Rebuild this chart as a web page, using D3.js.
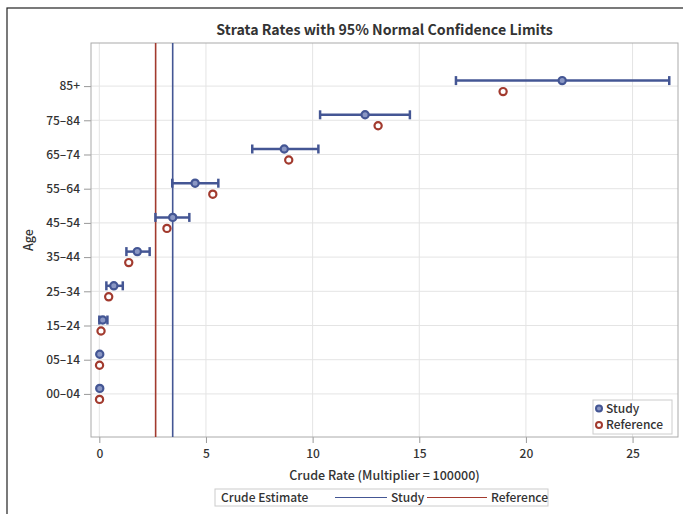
<!DOCTYPE html>
<html>
<head>
<meta charset="utf-8">
<script src="https://cdn.jsdelivr.net/npm/d3@7"></script>
<style>
  body { margin: 0; background: #fff; }
  text { font-family: "Noto Sans CJK JP", "Noto Sans", sans-serif; fill: #333; }
</style>
</head>
<body>
<div id="chart"></div>
<script>
// age strata, top to bottom
const ageGroups = ['85+', '75-84', '65-74', '55-64', '45-54', '35-44', '25-34', '15-24', '05-14', '00-04']
// study rates and 95% normal limits
const studyRate  = [21.70, 12.46, 8.67, 4.49, 3.44, 1.78, 0.68, 0.16, 0.02, 0.02]
const studyLower = [16.72, 10.35, 7.17, 3.42, 2.63, 1.27, 0.33, 0.00, 0.02, 0.02]
const studyUpper = [26.72, 14.56, 10.27, 5.58, 4.22, 2.36, 1.10, 0.38, 0.02, 0.02]
// reference rates
const refRate = [18.93, 13.07, 8.88, 5.32, 3.17, 1.38, 0.44, 0.08, 0.01, 0.01]
// crude estimates
const crudeStudy = 3.44
const crudeRef = 2.64
const xTicks = [0, 5, 10, 15, 20, 25]

const cfg = {
    w: 683,
    h: 514,
    margin: { top: 43, right: 5, bottom: 77, left: 91 },
    blue: '#445694',
    red: '#a23a2e',
    grid: '#e4e4e4',
    offset: 5.5          // cluster offset between study / reference markers
}

const width = cfg.w - cfg.margin.left - cfg.margin.right
const height = cfg.h - cfg.margin.top - cfg.margin.bottom

const svg = d3.select('#chart')
    .append('svg')
    .attr('width', cfg.w)
    .attr('height', cfg.h)

// outer frame
svg.append('rect')
    .attr('x', 7).attr('y', 8)
    .attr('width', 700).attr('height', 540)
    .attr('fill', 'none')
    .attr('stroke', '#222')
    .attr('stroke-width', 1.2)

const g = svg.append('g')
    .attr('transform', `translate(${cfg.margin.left}, ${cfg.margin.top})`)

const x = d3.scaleLinear().domain([-0.39, 27.13]).range([0, width])
const y = d3.scalePoint().domain(ageGroups).range([0, height]).padding(1.26)

// grid
g.append('g').selectAll('line')
    .data(xTicks).enter()
    .append('line')
    .attr('x1', d => x(d)).attr('x2', d => x(d))
    .attr('y1', 0).attr('y2', height)
    .attr('stroke', cfg.grid)
g.append('g').selectAll('line')
    .data(ageGroups).enter()
    .append('line')
    .attr('x1', 0).attr('x2', width)
    .attr('y1', d => y(d)).attr('y2', d => y(d))
    .attr('stroke', cfg.grid)

// axes
const xAxis = g.append('g')
    .attr('transform', `translate(0, ${height})`)
    .call(d3.axisBottom(x).tickValues(xTicks).tickSize(6).tickPadding(6))
const yAxis = g.append('g')
    .call(d3.axisLeft(y).tickSize(7).tickPadding(4))
;[xAxis, yAxis].forEach(a => {
    a.select('.domain').remove()
    a.selectAll('line').attr('stroke', '#999')
    a.selectAll('text').attr('font-family', null).attr('font-size', null)
        .style('font-size', '12px').style('fill', '#333').style('font-weight', '500')
})
yAxis.selectAll('text').text(d => d.replace('-', '–'))

// plot border
g.append('rect')
    .attr('width', width).attr('height', height)
    .attr('fill', 'none')
    .attr('stroke', '#aaa')

// crude reference lines
g.append('line')
    .attr('x1', x(crudeRef)).attr('x2', x(crudeRef))
    .attr('y1', 0).attr('y2', height)
    .attr('stroke', cfg.red).attr('stroke-width', 1.6)
g.append('line')
    .attr('x1', x(crudeStudy)).attr('x2', x(crudeStudy))
    .attr('y1', 0).attr('y2', height)
    .attr('stroke', cfg.blue).attr('stroke-width', 1.6)

// error bars for study
const bars = g.append('g').selectAll('g')
    .data(ageGroups.map((a, i) => ({ a, lo: studyLower[i], hi: studyUpper[i] }))
        .filter(d => d.hi > d.lo))
    .enter().append('g')
    .attr('stroke', cfg.blue).attr('stroke-width', 2.5)
bars.append('line')
    .attr('x1', d => x(d.lo)).attr('x2', d => x(d.hi))
    .attr('y1', d => y(d.a) - cfg.offset).attr('y2', d => y(d.a) - cfg.offset)
bars.selectAll('.cap')
    .data(d => [[d.a, d.lo], [d.a, d.hi]]).enter()
    .append('line')
    .attr('x1', d => x(d[1])).attr('x2', d => x(d[1]))
    .attr('y1', d => y(d[0]) - cfg.offset - 4.5).attr('y2', d => y(d[0]) - cfg.offset + 4.5)

// markers
g.append('g').selectAll('circle')
    .data(ageGroups.map((a, i) => ({ a, v: studyRate[i] })))
    .enter().append('circle')
    .attr('cx', d => x(d.v)).attr('cy', d => y(d.a) - cfg.offset)
    .attr('r', 3.6)
    .attr('fill', '#8a97c4')
    .attr('stroke', cfg.blue).attr('stroke-width', 2.2)
g.append('g').selectAll('circle')
    .data(ageGroups.map((a, i) => ({ a, v: refRate[i] })))
    .enter().append('circle')
    .attr('cx', d => x(d.v)).attr('cy', d => y(d.a) + cfg.offset)
    .attr('r', 3.6)
    .attr('fill', '#fff')
    .attr('stroke', cfg.red).attr('stroke-width', 2.2)

// inner legend
const leg = g.append('g').attr('transform', `translate(${593 - cfg.margin.left}, ${400 - cfg.margin.top})`)
leg.append('rect').attr('width', 79).attr('height', 34)
    .attr('fill', '#fff').attr('stroke', '#ccc')
;[['Study', cfg.blue, '#8a97c4'], ['Reference', cfg.red, '#fff']].forEach((d, i) => {
    leg.append('circle').attr('cx', 6).attr('cy', 8.5 + i * 16.5).attr('r', 3)
        .attr('fill', d[2]).attr('stroke', d[1]).attr('stroke-width', 2)
    leg.append('text').attr('x', 13).attr('y', 12.5 + i * 16.5)
        .style('font-size', '12px').style('font-weight', '500').text(d[0])
})

// title and axis labels
svg.append('text')
    .attr('x', cfg.margin.left + width / 2).attr('y', 35)
    .attr('text-anchor', 'middle')
    .style('font-size', '14.2px').style('font-weight', 'bold')
    .text('Strata Rates with 95% Normal Confidence Limits')
svg.append('text')
    .attr('x', cfg.margin.left + width / 2).attr('y', 480)
    .attr('text-anchor', 'middle')
    .style('font-size', '12.5px').style('font-weight', '500')
    .text('Crude Rate (Multiplier = 100000)')
svg.append('text')
    .attr('transform', `translate(33, ${cfg.margin.top + height / 2}) rotate(-90)`)
    .attr('text-anchor', 'middle')
    .style('font-size', '12.5px').style('font-weight', '500')
    .text('Age')

// bottom legend
const bl = svg.append('g').attr('transform', 'translate(215, 489)')
bl.append('rect').attr('width', 333).attr('height', 17)
    .attr('fill', '#fff').attr('stroke', '#ccc')
const blText = (xp, s) => bl.append('text').attr('x', xp).attr('y', 13)
    .style('font-size', '12px').style('font-weight', '500').text(s)
blText(6, 'Crude Estimate')
bl.append('line').attr('x1', 120).attr('x2', 172).attr('y1', 8.5).attr('y2', 8.5)
    .attr('stroke', cfg.blue).attr('stroke-width', 1.2)
blText(176, 'Study')
bl.append('line').attr('x1', 212).attr('x2', 272).attr('y1', 8.5).attr('y2', 8.5)
    .attr('stroke', cfg.red).attr('stroke-width', 1.2)
blText(276, 'Reference')
</script>
</body>
</html>
